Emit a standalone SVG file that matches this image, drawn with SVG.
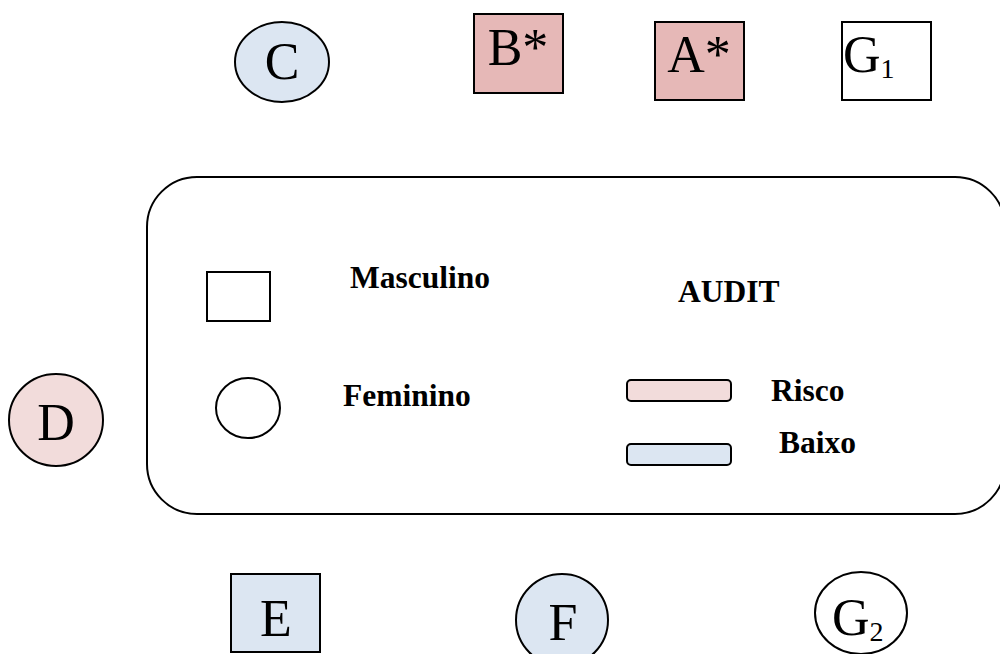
<svg xmlns="http://www.w3.org/2000/svg" width="1000" height="654" viewBox="0 0 1000 654">
<style>
.s{stroke:#000;stroke-width:2}
.big{font-family:"Liberation Serif",serif;font-size:52px;fill:#000}
.sub{font-family:"Liberation Serif",serif;font-size:28px;fill:#000}
.lab{font-family:"Liberation Serif",serif;font-size:31.5px;font-weight:bold;fill:#000}
.blue{fill:#dce6f2}
.pink{fill:#f2dcdb}
.red{fill:#e6b8b7}
.white{fill:#fff}
</style>
<rect width="1000" height="654" fill="#fff"/>
<g id="legend">
<rect class="s white" x="147" y="177" width="858" height="337" rx="50" ry="50"/>
<rect class="s white" x="207" y="272" width="63" height="49"/>
<ellipse class="s white" cx="248" cy="408" rx="32" ry="30"/>
<text class="lab" x="350" y="288">Masculino</text>
<text class="lab" x="343" y="406">Feminino</text>
<text class="lab" x="678" y="302">AUDIT</text>
<rect class="s pink" x="627" y="380" width="104" height="21" rx="4"/>
<rect class="s blue" x="627" y="444" width="104" height="21" rx="4"/>
<text class="lab" x="771" y="401">Risco</text>
<text class="lab" x="779" y="453">Baixo</text>
</g>
<g id="connectors"></g>
<g id="C"><ellipse class="s blue" cx="282" cy="62" rx="47" ry="40"/><text class="big" x="282" y="79" text-anchor="middle">C</text></g>
<g id="Bstar"><rect class="s red" x="474" y="14" width="89" height="79"/><text class="big" x="518" y="65" text-anchor="middle">B*</text></g>
<g id="Astar"><rect class="s red" x="655" y="22" width="89" height="78"/><text class="big" x="699" y="72" text-anchor="middle">A*</text></g>
<g id="G1"><rect class="s white" x="842" y="22" width="89" height="78"/><text class="big" x="843" y="72">G<tspan class="sub" dy="6">1</tspan></text></g>
<g id="D"><ellipse class="s pink" cx="56" cy="420" rx="47" ry="46"/><text class="big" x="56" y="440" text-anchor="middle">D</text></g>
<g id="E"><rect class="s blue" x="231" y="574" width="89" height="78"/><text class="big" x="276" y="636" text-anchor="middle">E</text></g>
<g id="F"><ellipse class="s blue" cx="562" cy="620" rx="46" ry="46"/><text class="big" x="563" y="640" text-anchor="middle">F</text></g>
<g id="G2"><ellipse class="s white" cx="861" cy="613" rx="46" ry="41"/><text class="big" x="832" y="635">G<tspan class="sub" dy="6">2</tspan></text></g>
</svg>
